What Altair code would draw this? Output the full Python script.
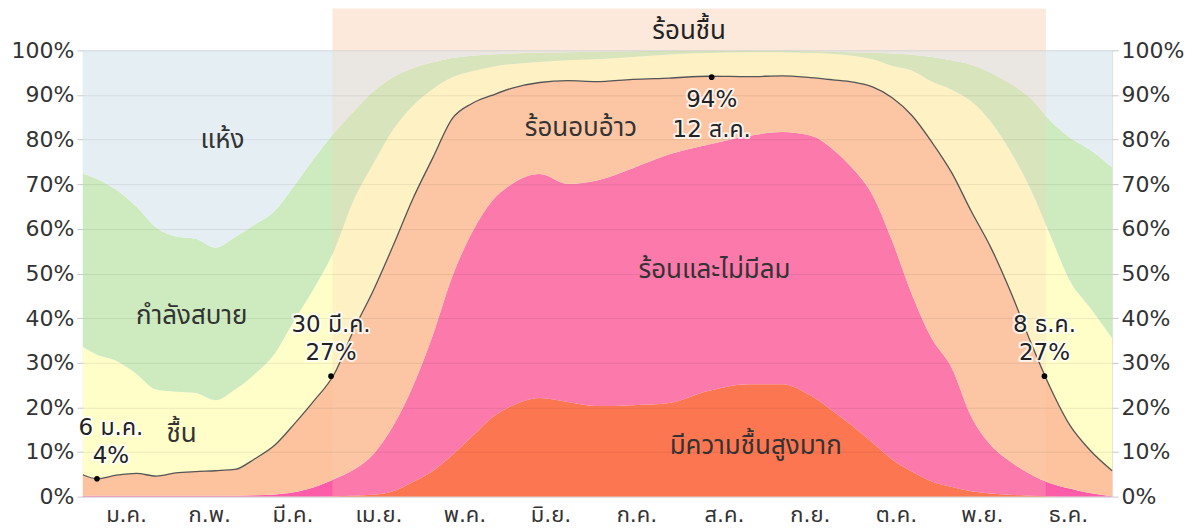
import altair as alt
import pandas as pd

# ---- data (day of year, cumulative % tops) ----
days = [0, 5, 12, 19, 26, 33, 40, 47, 54, 61, 68, 75, 82, 89, 96, 103, 110, 117,
        124, 131, 138, 145, 152, 162, 172, 182, 195, 208, 222, 236, 248, 258, 266,
        273, 280, 287, 294, 301, 308, 315, 322, 329, 336, 343, 350, 357, 365]

miserable_top = [0, 0, 0, 0, 0, 0, 0, 0, 0, 0, 0, 0, 0, 0.1, 0.2, 0.4, 1.2, 3.3,
                 5.7, 9.3, 13.5, 17.7, 20.3, 22.1, 21.2, 20.3, 20.5, 21.0, 23.7, 25.2,
                 25.2, 22.7, 19.2, 15.8, 12.1, 8.3, 5.6, 3.4, 2.2, 1.2, 0.7, 0.4, 0.2,
                 0.1, 0, 0, 0]

oppressive_top = [0.2, 0.2, 0.2, 0.2, 0.2, 0.2, 0.2, 0.2, 0.2, 0.3, 0.5, 1.0, 2.1,
                  3.9, 6.0, 9.5, 15.8, 24.7, 36.0, 49.3, 59.2, 66.2, 70.0, 72.3, 70.1,
                  70.8, 73.6, 76.7, 78.9, 80.8, 81.7, 80.9, 77.8, 73.5, 67.6, 57.3,
                  45.3, 35.5, 29.0, 18.0, 11.5, 7.8, 5.0, 3.0, 1.8, 0.8, 0.1]

muggy_top = [4.9, 4.0, 4.8, 5.2, 4.6, 5.3, 5.6, 5.8, 6.1, 8.5, 11.5, 16.3, 21.5,
             27.3, 37.3, 46.2, 56.2, 66.7, 75.8, 84.7, 88.1, 89.9, 91.5, 92.8, 93.2,
             93.0, 93.5, 93.8, 94.2, 94.1, 94.3, 93.9, 93.4, 92.9, 91.8, 89.4, 85.4,
             79.5, 72.7, 64.0, 55.8, 45.9, 34.8, 24.5, 16.0, 10.5, 5.8]

humid_top = [33.6, 31.8, 30.4, 27.5, 24.0, 23.5, 23.2, 21.6, 24.0, 27.5, 32.0, 39.5,
             46.7, 55.0, 66.4, 74.6, 82.2, 87.6, 91.3, 94.0, 95.3, 96.3, 96.9, 97.4,
             97.8, 98.0, 98.5, 99.1, 99.4, 99.6, 99.6, 99.4, 99.2, 98.8, 98.0, 96.5,
             95.5, 93.0, 91.2, 88.6, 84.0, 77.3, 69.0, 58.7, 48.4, 42.5, 35.5]

comfortable_top = [72.4, 71.2, 68.7, 65.0, 60.3, 58.3, 57.8, 55.8, 58.2, 61.0, 64.0,
                   69.7, 75.8, 81.4, 86.3, 90.8, 94.0, 96.0, 97.3, 98.3, 98.8, 99.1,
                   99.3, 99.5, 99.6, 99.7, 99.8, 99.9, 99.9, 99.9, 99.9, 99.8, 99.7,
                   99.6, 99.5, 99.3, 99.0, 98.5, 97.8, 96.8, 95.0, 92.5, 89.3, 84.3,
                   80.5, 77.8, 73.8]

categories = ["มีความชื้นสูงมาก", "ร้อนและไม่มีลม", "ร้อนอบอ้าว", "ชื้น", "กำลังสบาย", "แห้ง"]
cat_colors = ["#fd5a30", "#fd5ca8", "#fdc39f", "#fffdc8", "#cdebbf", "#e5eef2"]
cat_label_day = [238.6, 224.0, 176.6, 35.0, 38.6, 49.5]
cat_label_pct = [11.4, 50.8, 82.5, 14.1, 40.5, 80.0]

month_names = ["ม.ค.", "ก.พ.", "มี.ค.", "เม.ย.", "พ.ค.", "มิ.ย.",
               "ก.ค.", "ส.ค.", "ก.ย.", "ต.ค.", "พ.ย.", "ธ.ค."]
month_starts = [0, 31, 59, 90, 120, 151, 181, 212, 243, 273, 304, 334, 365]

season_label = "ร้อนชื้น"
season_start = 88.5
season_end = 341.5

ann_days = [5, 88, 223, 341]
ann_vals = [4, 27, 94, 27]
ann_line1 = ["6 ม.ค.", "30 มี.ค.", "94%", "8 ธ.ค."]
ann_line2 = ["4%", "27%", "12 ส.ค.", "27%"]
ann_above = [True, True, False, True]
ann_shift_px = [14, 0, 0, 0]

# ---- layout ----
W, H = 1031, 447
FONT = "DejaVu Sans, Noto Sans Thai, Tahoma, sans-serif"
PX_PER_PCT = H / 100.0
PX_PER_DAY = W / 365.0

xscale = alt.Scale(domain=[0, 365], nice=False, zero=False)
yscale = alt.Scale(domain=[0, 100], nice=False)

# ---- build tables ----
rows = []
for i, d in enumerate(days):
    bounds = [0, miserable_top[i], oppressive_top[i], muggy_top[i],
              humid_top[i], comfortable_top[i], 100]
    for k, c in enumerate(categories):
        rows.append({"day": d, "cat": c, "y0": bounds[k], "y1": bounds[k + 1]})
df_area = pd.DataFrame(rows)
df_line = pd.DataFrame({"day": days, "v": muggy_top})

ann_rows = []
for d, v, l1, l2, above, sh in zip(ann_days, ann_vals, ann_line1, ann_line2, ann_above, ann_shift_px):
    lx = d + sh / PX_PER_DAY
    if above:
        ann_rows.append({"day": lx, "v": v + 51 / PX_PER_PCT, "t": l1})
        ann_rows.append({"day": lx, "v": v + 23 / PX_PER_PCT, "t": l2})
    else:
        ann_rows.append({"day": lx, "v": v - 23 / PX_PER_PCT, "t": l1})
        ann_rows.append({"day": lx, "v": v - 53 / PX_PER_PCT, "t": l2})
df_ann = pd.DataFrame(ann_rows)
df_pts = pd.DataFrame({"day": ann_days, "v": ann_vals})
df_cat = pd.DataFrame({"day": cat_label_day, "v": cat_label_pct, "t": categories})
df_month = pd.DataFrame({
    "day": [(month_starts[i] + month_starts[i + 1]) / 2 for i in range(12)],
    "t": month_names,
})
df_season = pd.DataFrame({"a": [season_start], "b": [season_end],
                          "m": [(season_start + season_end) / 2], "t": [season_label]})

# ---- layers ----
x_axis = alt.Axis(values=month_starts, labels=False, title=None, grid=True,
                  gridColor="#000", gridOpacity=0.16, tickColor="#c8c8c8", tickSize=8,
                  domain=False, zindex=1)
y_axis_left = alt.Axis(orient="left", values=list(range(0, 101, 10)), labelExpr="datum.value + '%'",
                       title=None, grid=True, gridColor="#000", gridOpacity=0.08,
                       tickColor="#c8c8c8", tickSize=6, labelFontSize=22, labelColor="#333",
                       labelFont=FONT, labelPadding=3, domain=False, zindex=1)
y_axis_right = alt.Axis(orient="right", values=list(range(0, 101, 10)), labelExpr="datum.value + '%'",
                        title=None, grid=False, tickColor="#c8c8c8", tickSize=6, labelFontSize=22,
                        labelColor="#333", labelFont=FONT, labelPadding=3, domain=False, zindex=1)

band_top = alt.Chart(df_season).mark_rect(color="#fde8dc").encode(
    x=alt.X("a:Q", scale=xscale, axis=None), x2="b:Q",
    y=alt.value(-42), y2=alt.value(0))

areas = alt.Chart(df_area).mark_area(interpolate="monotone").encode(
    x=alt.X("day:Q", scale=xscale, axis=x_axis),
    y=alt.Y("y0:Q", scale=yscale, axis=y_axis_left),
    y2="y1:Q",
    color=alt.Color("cat:N", scale=alt.Scale(domain=categories, range=cat_colors), legend=None),
)

overlay = alt.Chart(df_season).mark_rect(color="#fdcfb3", opacity=0.25).encode(
    x=alt.X("a:Q", scale=xscale, axis=None), x2="b:Q",
    y=alt.value(0), y2=alt.value(H))

line = alt.Chart(df_line).mark_line(interpolate="monotone", color="#555", strokeWidth=1.3).encode(
    x=alt.X("day:Q", scale=xscale, axis=None),
    y=alt.Y("v:Q", scale=yscale, axis=y_axis_right),
)

pts = alt.Chart(df_pts).mark_circle(size=32, color="#000", opacity=1).encode(
    x=alt.X("day:Q", scale=xscale, axis=None),
    y=alt.Y("v:Q", scale=yscale, axis=None),
)

cat_text = alt.Chart(df_cat).mark_text(fontSize=26, font=FONT, color="#333", baseline="middle").encode(
    x=alt.X("day:Q", scale=xscale, axis=None),
    y=alt.Y("v:Q", scale=yscale, axis=None),
    text="t:N",
)

ann_halo = alt.Chart(df_ann).mark_text(fontSize=23, font=FONT, color="#fff", stroke="#fff",
                                       strokeWidth=4, strokeOpacity=0.8, strokeJoin="round",
                                       baseline="middle").encode(
    x=alt.X("day:Q", scale=xscale, axis=None),
    y=alt.Y("v:Q", scale=yscale, axis=None),
    text="t:N",
)
ann_text = alt.Chart(df_ann).mark_text(fontSize=23, font=FONT, color="#222", baseline="middle").encode(
    x=alt.X("day:Q", scale=xscale, axis=None),
    y=alt.Y("v:Q", scale=yscale, axis=None),
    text="t:N",
)

month_text = alt.Chart(df_month).mark_text(fontSize=22, font=FONT, color="#333", baseline="middle").encode(
    x=alt.X("day:Q", scale=xscale, axis=None),
    y=alt.value(H + 18),
    text="t:N",
)

season_text = alt.Chart(df_season).mark_text(fontSize=26, font=FONT, color="#222", baseline="middle").encode(
    x=alt.X("m:Q", scale=xscale, axis=None),
    y=alt.value(-19),
    text="t:N",
)

chart = alt.layer(
    band_top, areas, overlay, line, pts, cat_text, ann_halo, ann_text, month_text, season_text
).resolve_axis(y="independent").properties(
    width=W, height=H,
    autosize=alt.AutoSizeParams(type="none"),
    padding={"left": 75, "top": 42, "right": 80, "bottom": 31},
).configure_view(stroke=None).configure(background="#ffffff")

chart.save("out.html", embed_options={"renderer": "svg", "actions": False})
